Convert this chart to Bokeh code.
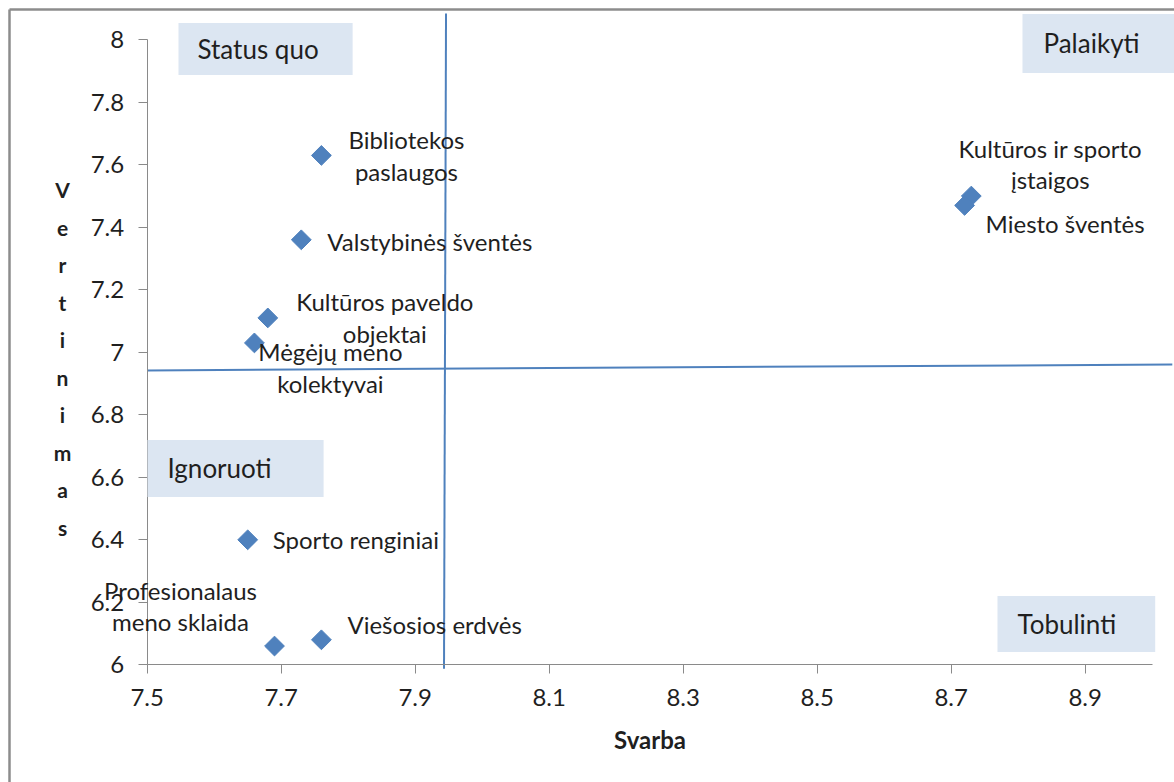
from bokeh.plotting import figure
from bokeh.models import Range1d, FixedTicker, Label
from bokeh.embed import file_html
from bokeh.resources import INLINE
import math

# ---------------- data ----------------
names = ["Bibliotekos\npaslaugos", "Valstybinės šventės", "Kultūros paveldo\nobjektai",
         "Mėgėjų meno\nkolektyvai", "Sporto renginiai", "Profesionalaus\nmeno sklaida",
         "Viešosios erdvės", "Kultūros ir sporto\nįstaigos", "Miesto šventės"]
svarba = [7.76, 7.73, 7.68, 7.66, 7.65, 7.69, 7.76, 8.73, 8.72]
vertinimas = [7.63, 7.36, 7.11, 7.03, 6.40, 6.06, 6.08, 7.50, 7.47]

x_ticks = [7.5, 7.7, 7.9, 8.1, 8.3, 8.5, 8.7, 8.9]
x_tick_labels = ["7.5", "7.7", "7.9", "8.1", "8.3", "8.5", "8.7", "8.9"]
y_ticks = [6, 6.2, 6.4, 6.6, 6.8, 7, 7.2, 7.4, 7.6, 7.8, 8]
y_tick_labels = ["6", "6.2", "6.4", "6.6", "6.8", "7", "7.2", "7.4", "7.6", "7.8", "8"]

quadrant_names = ["Status quo", "Palaikyti", "Ignoruoti", "Tobulinti"]
# quadrant divider lines (drawn shapes of the original chart)
vline_svarba = [7.943, 7.946]
vline_vertinimas = [5.987, 8.084]
hline_svarba = [7.5, 9.03]
hline_vertinimas = [6.942, 6.961]

x_title = "Svarba"
y_title = "Vertinimas"

# ---------------- layout ----------------
FONT = "Lato"
TXT = "#1f1f1f"
BLUE = "#4F81BD"
BOXFILL = "#DCE6F2"
AXIS = "#8a8a8a"

W, H = 1174, 782
AX_LEFT_PX, AX_BOTTOM_PX = 146.7, 664.3   # where x=7.5 and y=6 sit on the canvas
PX_X = 670.0     # pixels per unit on x
PX_Y = 312.5     # pixels per unit on y

x_start = 7.5 - AX_LEFT_PX / PX_X
x_end = x_start + W / PX_X
y_end = 6.0 + AX_BOTTOM_PX / PX_Y
y_start = y_end - H / PX_Y

def X(px):
    return x_start + px / PX_X

def Y(py):
    return y_end - py / PX_Y

p = figure(width=W, height=H, output_backend="svg", toolbar_location=None,
           x_range=Range1d(x_start, x_end), y_range=Range1d(y_start, y_end),
           min_border=0)
p.outline_line_color = None
p.xgrid.visible = False
p.ygrid.visible = False
p.background_fill_color = "white"
p.border_fill_color = "white"

for ax, ticks, labels, bounds, loc in ((p.xaxis[0], x_ticks, x_tick_labels, (7.5, 9.0), 6.0),
                                       (p.yaxis[0], y_ticks, y_tick_labels, (6.0, 8.0), 7.5)):
    ax.fixed_location = loc
    ax.ticker = FixedTicker(ticks=ticks)
    ax.major_label_overrides = {t: l for t, l in zip(ticks, labels)}
    ax.bounds = bounds
    ax.axis_line_color = AXIS
    ax.axis_line_width = 1
    ax.major_tick_line_color = AXIS
    ax.major_tick_in = 0
    ax.major_tick_out = 9
    ax.minor_tick_line_color = None
    ax.major_label_text_font = FONT
    ax.major_label_text_font_size = "24px"
    ax.major_label_text_color = TXT

p.xaxis[0].major_label_standoff = 15
p.yaxis[0].major_label_standoff = 14
p.xaxis[0].axis_label = x_title
p.xaxis[0].axis_label_text_font = FONT
p.xaxis[0].axis_label_text_font_style = "bold"
p.xaxis[0].axis_label_text_font_size = "24px"
p.xaxis[0].axis_label_text_color = TXT
p.xaxis[0].axis_label_standoff = 16

# outer chart border (top and left edges visible in the original crop)
p.segment(x0=[X(9), X(9)], y0=[Y(9), Y(9)], x1=[X(9), X(W)], y1=[Y(H), Y(9)],
          line_color="#8c8c8c", line_width=2.5)

# vertical y title, one letter per line
p.add_layout(Label(x=X(62), y=Y(358), text="\n".join(list(y_title)),
                   text_font=FONT, text_font_style="bold", text_font_size="21px",
                   text_color=TXT, text_align="center", text_baseline="middle",
                   text_line_height=1.5))

# quadrant dividers
p.line(vline_svarba, vline_vertinimas, line_color=BLUE, line_width=2)
p.line(hline_svarba, hline_vertinimas, line_color=BLUE, line_width=2)

# points
p.scatter(svarba, vertinimas, marker="square", size=14, angle=math.pi / 4,
          fill_color=BLUE, line_color=BLUE)

# data labels (offsets in px: dx right, dy down)
label_align = ["center", "left", "center", "center", "left", "center", "left", "center", "left"]
label_dx = [85, 26, 117, 76, 25, -94, 26, 79, 21]
label_dy = [0, 2, 0, 25, 0, -40, -15, -32, 18]
for n, xv, yv, al, ox, oy in zip(names, svarba, vertinimas, label_align, label_dx, label_dy):
    p.add_layout(Label(x=xv, y=yv, text=n, x_offset=ox, y_offset=-oy,
                       text_font=FONT, text_font_size="24px", text_color=TXT,
                       text_align=al, text_baseline="middle", text_line_height=1.1))

# quadrant boxes: (box left px, box centre y px, padding)
quad_pos = [(178, 48.5, dict(left=19, right=34, top=10, bottom=10)),
            (1022, 43, dict(left=21, right=36, top=13, bottom=14)),
            (147, 468, dict(left=20, right=52, top=12, bottom=13)),
            (997, 623.5, dict(left=20, right=39, top=12, bottom=12))]
for q, (bx, by, pad) in zip(quadrant_names, quad_pos):
    p.add_layout(Label(x=X(bx), y=Y(by), text=q,
                       text_font=FONT, text_font_size="26px", text_color=TXT,
                       text_align="left", text_baseline="middle",
                       background_fill_color=BOXFILL, padding=pad))

open("out.html", "w").write(file_html(p, INLINE))
